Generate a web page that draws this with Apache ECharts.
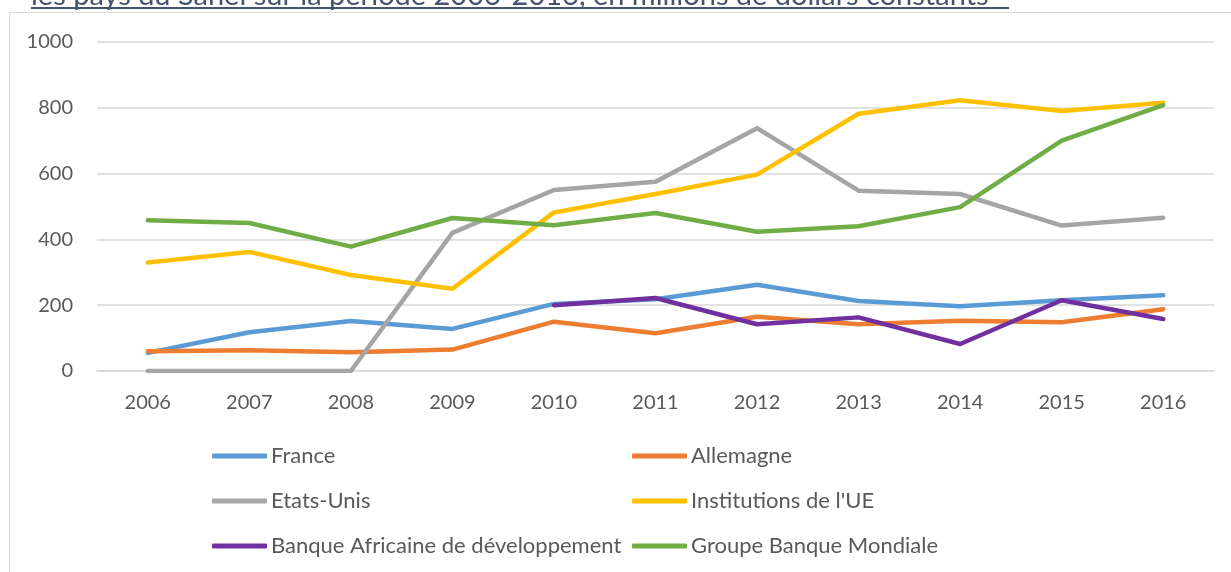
<!DOCTYPE html>
<html>
<head>
<meta charset="utf-8">
<script src="https://cdn.jsdelivr.net/npm/echarts@6/dist/echarts.min.js"></script>
<style>
  html, body { margin: 0; padding: 0; background: #fff; }
  #chart { width: 1231px; height: 572px; }
</style>
</head>
<body>
<div id="chart"></div>
<script>
 // données (millions de dollars constants)
 var annees = ['2006','2007','2008','2009','2010','2011','2012','2013','2014','2015','2016'];
 var france = [55, 118, 152, 128, 204, 218, 262, 213, 197, 215, 230];
 var allemagne = [60, 63, 57, 65, 150, 115, 165, 142, 153, 148, 188];
 var etatsUnis = [0, 0, 0, 420, 550, 575, 738, 548, 538, 442, 466];
 var ue = [330, 362, 292, 250, 482, 538, 597, 782, 823, 790, 815];
 var bad = [null, null, null, null, 200, 222, 142, 163, 82, 215, 158];
 var bm = [458, 450, 378, 465, 443, 480, 423, 440, 498, 700, 808];
 var noms = ['France', 'Allemagne', 'Etats-Unis', "Institutions de l'UE",
             'Banque Africaine de développement', 'Groupe Banque Mondiale'];
 var couleurs = ['#5B9BD5', '#ED7D31', '#A5A5A5', '#FFC000', '#7030A0', '#70AD47'];
 var valeurs = [france, allemagne, etatsUnis, ue, bad, bm];

 var police = 'Lato, "Open Sans", sans-serif';

 function makeSeries() {
   var s = [];
   for (var i = 0; i < noms.length; i++) {
     s.push({
       name: noms[i],
       type: 'line',
       data: valeurs[i],
       symbol: 'none',
       lineStyle: { width: 4.5, color: couleurs[i], cap: 'round', join: 'round' },
       itemStyle: { color: couleurs[i] },
       z: 2 + i
     });
   }
   return s;
 }

 function makeLegend(items, left) {
   return {
     orient: 'vertical',
     left: left,
     top: 445,
     padding: 0,
     icon: 'roundRect',
     itemWidth: 55,
     itemHeight: 5,
     itemGap: 23,
     data: items,
     textStyle: { fontFamily: police, fontSize: 22, color: '#595959', lineHeight: 22, padding: [0, 0, 0, -1] }
   };
 }

 function makeOption() {
   var option = {
     animation: false,
     color: couleurs,
     grid: { left: 97, right: 17, top: 42, bottom: 201 },
     graphic: [
       {   // cadre du graphique
         type: 'rect',
         shape: { x: 9.5, y: 12.5, width: 1240, height: 600 },
         style: { fill: 'none', stroke: '#d9d9d9', lineWidth: 1 },
         silent: true
       },
       {   // titre coupé en haut
         type: 'text',
         left: 31,
         top: -19,
         style: {
           text: 'les pays du Sahel sur la période 2006-2016, en millions de dollars constants',
           font: '29px ' + police,
           fill: '#44546A'
         },
         silent: true
       },
       {   // soulignement
         type: 'rect',
         shape: { x: 31, y: 7, width: 978, height: 2 },
         style: { fill: '#44546A' },
         silent: true
       }
     ],
     legend: [
       makeLegend([noms[0], noms[2], noms[4]], 212),
       makeLegend([noms[1], noms[3], noms[5]], 632)
     ],
     xAxis: {
       type: 'category',
       data: annees,
       boundaryGap: true,
       axisLine: { show: true, lineStyle: { color: '#d9d9d9', width: 1.5 } },
       axisTick: { show: false },
       axisLabel: { fontFamily: police, fontSize: 20, color: '#595959', margin: 22 }
     },
     yAxis: {
       type: 'value',
       min: 0,
       max: 1000,
       interval: 200,
       axisLine: { show: false },
       axisTick: { show: false },
       axisLabel: {
         fontFamily: police, fontSize: 20, color: '#595959', margin: 24,
         formatter: function (v) { return String(v); }
       },
       splitLine: { lineStyle: { color: '#d9d9d9', width: 1.5 } }
     },
     series: makeSeries()
   };
   return option;
 }

 function setChart(id, option) {
   var myChart = echarts.init(document.getElementById(id));
   myChart.setOption(option);
 }

 setChart('chart', makeOption());
</script>
</body>
</html>
